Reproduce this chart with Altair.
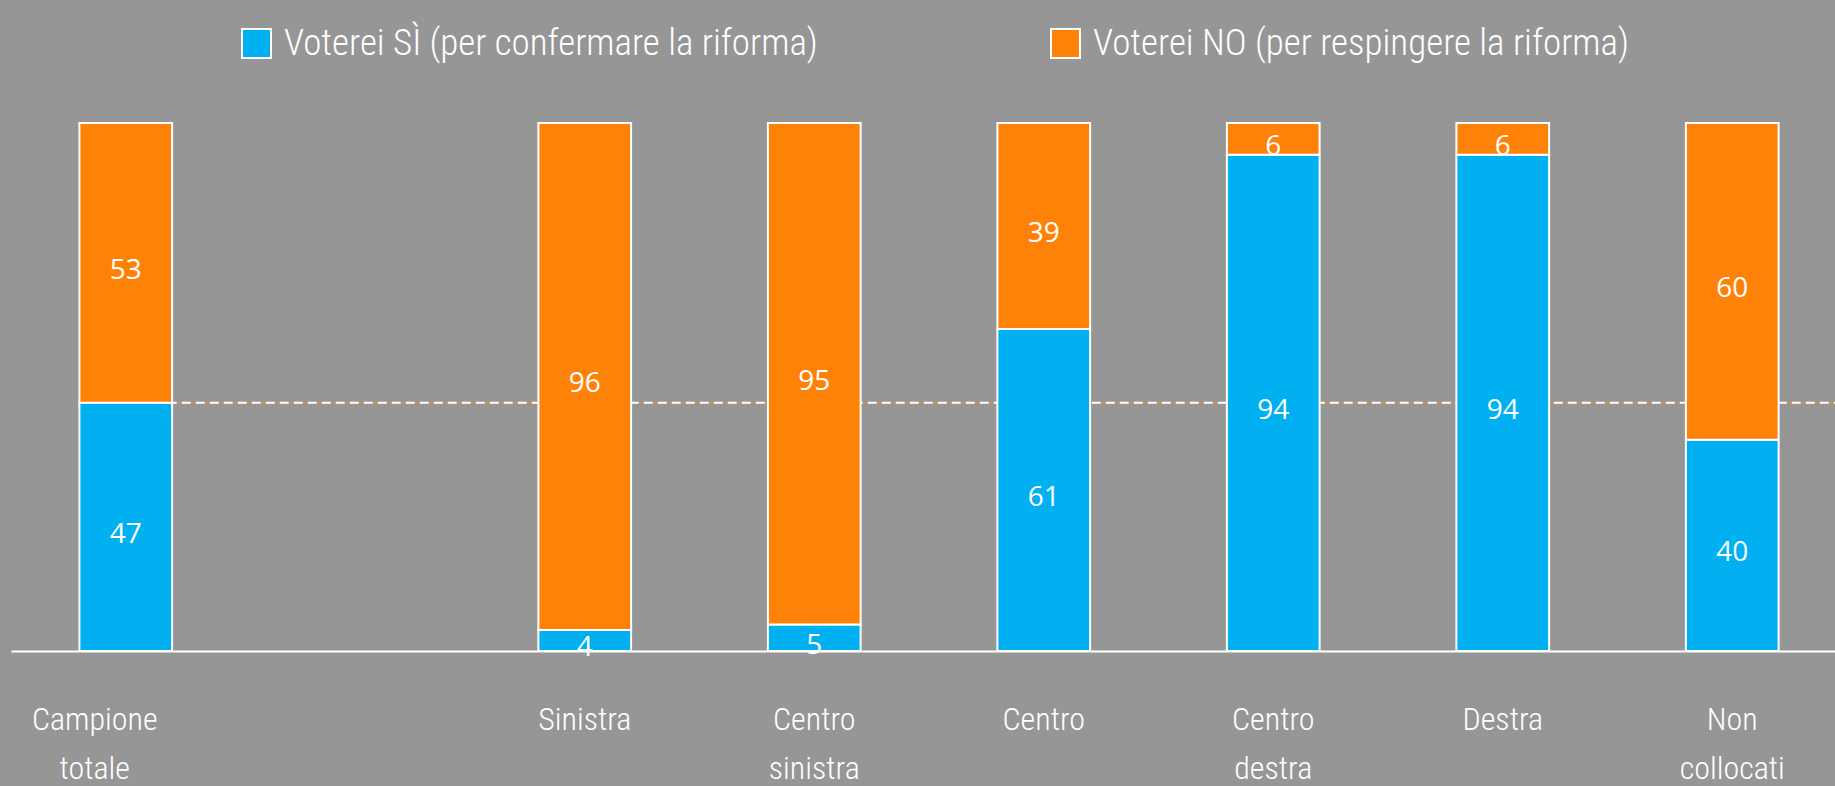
import altair as alt
import pandas as pd

# Voting intention by political self-placement (percent)
categories = ["Campione\ntotale", "Sinistra", "Centro\nsinistra", "Centro",
              "Centro\ndestra", "Destra", "Non\ncollocati"]
si_values = [47, 4, 5, 61, 94, 94, 40]
no_values = [53, 96, 95, 39, 6, 6, 60]

series_names = ["Voterei SÌ (per confermare la riforma)",
                "Voterei NO (per respingere la riforma)"]
series_colors = ["#00B0F0", "#FF8208"]

# An empty slot separates the total sample from the groups
x_domain = [categories[0], " "] + categories[1:]

# Stacked segments: SÌ at the bottom, NO above it
rows = []
for cat, s, n in zip(categories, si_values, no_values):
    rows.append({"cat": cat, "serie": series_names[0], "val": s,
                 "v0": 0, "v1": s, "mid": s / 2})
    rows.append({"cat": cat, "serie": series_names[1], "val": n,
                 "v0": s, "v1": s + n, "mid": s + n / 2})
df = pd.DataFrame(rows)

W, H = 1824, 528
BG = "#969696"
NARROW = ("'Roboto Condensed', 'Liberation Sans Narrow', 'Open Sans Condensed', "
          "'DejaVu Sans Condensed', 'Liberation Sans', sans-serif")

# the last band runs slightly past the right edge of the page
x_scale = alt.Scale(domain=x_domain, range=[0, 1836],
                    paddingInner=0.596, paddingOuter=0.298)
x_axis = alt.Axis(
    title=None, labelAngle=0, ticks=False, domainColor="white", domainWidth=2,
    labelColor="white", labelFont=NARROW, labelFontSize=32, labelFontWeight=300,
    labelPadding=78, labelBaseline="alphabetic", labelLineHeight=49,
    labelExpr="split(datum.label, '\\n')", labelLimit=0,
    labelOffset={"expr": "indexof(datum.value, 'Campione') == 0 ? -31 : 0"},
)
y_scale = alt.Scale(domain=[0, 100], nice=False)

bars = alt.Chart(df).mark_bar(stroke="white", strokeWidth=2).encode(
    x=alt.X("cat:N", scale=x_scale, axis=x_axis),
    y=alt.Y("v0:Q", scale=y_scale, axis=None),
    y2="v1:Q",
    color=alt.Color(
        "serie:N",
        scale=alt.Scale(domain=series_names, range=series_colors),
        legend=alt.Legend(
            title=None, orient="none", legendX=227, legendY=-98, direction="horizontal",
            symbolType="square", symbolSize=841, symbolStrokeColor="white",
            symbolStrokeWidth=2, symbolOpacity=1,
            labelFont=NARROW, labelFontSize=37, labelFontWeight=300, labelColor="white",
            labelOffset=9, columnPadding=229, labelLimit=0, padding=0,
        ),
    ),
)

labels = alt.Chart(df).mark_text(font="Open Sans", fontSize=28, color="white",
                                 baseline="middle", dy=8).encode(
    x=alt.X("cat:N", scale=x_scale, axis=x_axis),
    y=alt.Y("mid:Q", scale=y_scale, axis=None),
    text=alt.Text("val:Q"),
)

# Reference line at the overall "SÌ" share
ref_df = pd.DataFrame({"cat": [categories[0]], "ref": [si_values[0]]})
ref_solid = alt.Chart(ref_df).mark_rule(color="#FF8208", strokeWidth=1).encode(
    x=alt.X("cat:N", scale=x_scale, axis=x_axis), x2=alt.value(W),
    y=alt.Y("ref:Q", scale=y_scale, axis=None),
)
ref_dash = alt.Chart(ref_df).mark_rule(color="white", strokeWidth=2,
                                       strokeDash=[9, 5]).encode(
    x=alt.X("cat:N", scale=x_scale, axis=x_axis), x2=alt.value(W),
    y=alt.Y("ref:Q", scale=y_scale, axis=None),
)

chart = alt.layer(ref_solid, ref_dash, bars, labels).properties(
    width=W, height=H,
    background=BG,
    padding={"left": 11, "top": 123, "right": 0, "bottom": 135},
    autosize=alt.AutoSizeParams(type="none"),
).configure_view(stroke=None)

chart.save("out.html", embed_options={"renderer": "svg", "actions": False})
